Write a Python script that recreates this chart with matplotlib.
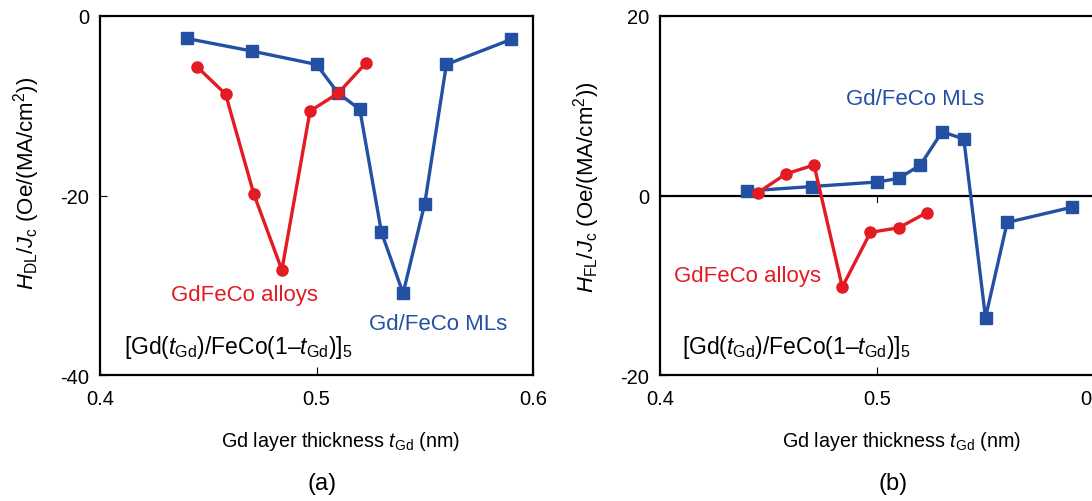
import matplotlib
matplotlib.use("Agg")
import matplotlib.pyplot as plt

# ---------------- data ----------------
t_ml = [0.44, 0.47, 0.50, 0.51, 0.52, 0.53, 0.54, 0.55, 0.56, 0.59]
hdl_ml = [-2.5, -3.9, -5.4, -8.6, -10.4, -24.1, -30.9, -20.9, -5.4, -2.6]
hfl_ml = [0.5, 1.0, 1.5, 1.9, 3.4, 7.1, 6.3, -13.6, -3.0, -1.3]

t_alloy = [0.445, 0.458, 0.471, 0.484, 0.497, 0.510, 0.523]
hdl_alloy = [-5.7, -8.7, -19.8, -28.3, -10.6, -8.6, -5.2]
hfl_alloy = [0.3, 2.4, 3.4, -10.2, -4.1, -3.6, -1.9]

xticks = [0.4, 0.5, 0.6]
xtick_labels = ["0.4", "0.5", "0.6"]
yticks_a = [-40, -20, 0]
yticks_b = [-20, 0, 20]

RED = "#e31b23"
BLUE = "#2450a4"

plt.rcParams["font.family"] = ["Liberation Sans", "DejaVu Sans"]
plt.rcParams["mathtext.fontset"] = "custom"
plt.rcParams["mathtext.rm"] = "Liberation Sans"
plt.rcParams["mathtext.it"] = "Liberation Sans:italic"
plt.rcParams["mathtext.bf"] = "Liberation Sans:bold"

W, H = 1092, 502
fig = plt.figure(figsize=(W / 100, H / 100), dpi=100)


def px_axes(l, r, top, bot):
    return fig.add_axes([l / W, (H - bot) / H, (r - l) / W, (bot - top) / H])


axa = px_axes(100, 533, 17, 376)
axb = px_axes(660, 1094, 17, 376)

TICKFS = 14.5
ANNFS = 16

for ax in (axa, axb):
    for s in ax.spines.values():
        s.set_linewidth(1.6)
    ax.set_xlim(0.4, 0.6)
    ax.set_xticks(xticks)
    ax.set_xticklabels(xtick_labels)
    ax.tick_params(axis="x", direction="in", length=6, width=0.8, pad=10,
                   labelsize=TICKFS)
    ax.tick_params(axis="y", direction="in", length=5, width=0.8, pad=8,
                   labelsize=TICKFS)

# ---- panel (a)
axa.set_ylim(-40, 0)
axa.set_yticks(yticks_a)
axa.set_yticklabels([str(v) for v in yticks_a])
axa.plot(t_ml, hdl_ml, "-s", color=BLUE, lw=2.4, ms=8.5, zorder=3)
axa.plot(t_alloy, hdl_alloy, "-o", color=RED, lw=2.4, ms=8, zorder=4)
axa.text(0.4667, -31.0, "GdFeCo alloys", color=RED, fontsize=ANNFS,
         ha="center", va="center")
axa.text(0.5564, -34.3, "Gd/FeCo MLs", color=BLUE, fontsize=ANNFS,
         ha="center", va="center")
axa.text(0.4637, -36.8,
         r"[Gd($t_{\rm Gd}$)/FeCo(1–$t_{\rm Gd}$)]$_{5}$",
         color="black", fontsize=16.5, ha="center", va="center")

# ---- panel (b)
axb.set_ylim(-20, 20)
axb.set_yticks(yticks_b)
axb.set_yticklabels([str(v) for v in yticks_b])
axb.axhline(0, color="black", lw=1.6, zorder=2)
axb.plot([xticks[1], xticks[1]], [0, -0.7], color="black", lw=0.8, zorder=2)
axb.plot(t_ml, hfl_ml, "-s", color=BLUE, lw=2.4, ms=8.5, zorder=3)
axb.plot(t_alloy, hfl_alloy, "-o", color=RED, lw=2.4, ms=8, zorder=4)
axb.text(0.5175, 10.8, "Gd/FeCo MLs", color=BLUE, fontsize=ANNFS,
         ha="center", va="center")
axb.text(0.4405, -8.9, "GdFeCo alloys", color=RED, fontsize=ANNFS,
         ha="center", va="center")
axb.text(0.463, -16.8,
         r"[Gd($t_{\rm Gd}$)/FeCo(1–$t_{\rm Gd}$)]$_{5}$",
         color="black", fontsize=16.5, ha="center", va="center")

# y labels
fig.text(27 / W, 1 - 183 / H, r"$H_{\rm DL}/J_{\rm c}$ (Oe/(MA/cm$^2$))",
         fontsize=16, rotation=90, ha="center", va="center")
fig.text(587 / W, 1 - 187 / H, r"$H_{\rm FL}/J_{\rm c}$ (Oe/(MA/cm$^2$))",
         fontsize=16, rotation=90, ha="center", va="center")

# x labels and panel letters
fig.text(341 / W, 1 - 442 / H, r"Gd layer thickness $t_{\rm Gd}$ (nm)",
         fontsize=14.2, ha="center", va="center")
fig.text(902 / W, 1 - 442 / H, r"Gd layer thickness $t_{\rm Gd}$ (nm)",
         fontsize=14.2, ha="center", va="center")
fig.text(322 / W, 1 - 484 / H, "(a)", fontsize=17, ha="center", va="center")
fig.text(893 / W, 1 - 484 / H, "(b)", fontsize=17, ha="center", va="center")

fig.savefig("out.png", dpi=100)
